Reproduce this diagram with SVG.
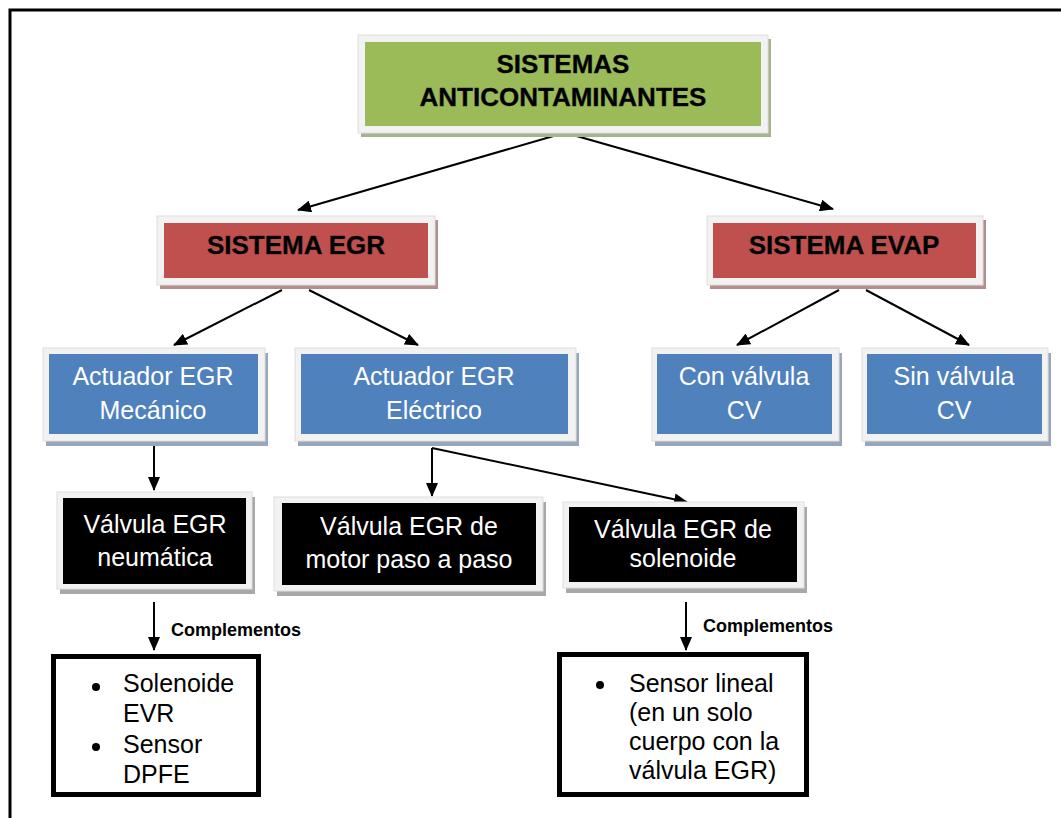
<svg xmlns="http://www.w3.org/2000/svg" width="1061" height="818" viewBox="0 0 1061 818">
  <defs>
    <marker id="arrow" viewBox="0 0 14 12" refX="13" refY="6" markerWidth="14" markerHeight="12" markerUnits="userSpaceOnUse" orient="auto">
      <path d="M0,0 L14,6 L0,12 Z" fill="#000"/>
    </marker>
    <style>
      .frame { fill: #f2f2f2; stroke: #dedede; stroke-width: 1; }
      .green { fill: #9bbb59; }
      .red { fill: #c0504d; }
      .blue { fill: #4f81bd; }
      .black { fill: #000; }
      .sh-green { fill: #a7b38f; }
      .sh-red { fill: #b48e8d; }
      .sh-blue { fill: #98a6ba; }
      .sh-black { fill: #a8a8a8; }
      .title { font-family: "Liberation Sans", Arial, sans-serif; font-weight: bold; font-size: 26px; fill: #000; stroke: #1a1a1a; stroke-width: 0.4; text-anchor: middle; }
      .label { font-family: "Liberation Sans", Arial, sans-serif; font-size: 25px; fill: #fff; text-anchor: middle; }
      .list { font-family: "Liberation Sans", Arial, sans-serif; font-size: 25px; fill: #000; }
      .note { font-family: "Liberation Sans", Arial, sans-serif; font-weight: bold; font-size: 18px; fill: #000; }
      .link { stroke: #000; stroke-width: 2; fill: none; marker-end: url(#arrow); }
      .box { fill: #fff; stroke: #000; stroke-width: 5; }
    </style>
  </defs>

  <rect width="1061" height="818" fill="#fff"/>
  <!-- page border (top and left edges) -->
  <path d="M10,818 V10 H1061" fill="none" stroke="#000" stroke-width="3"/>

  <g id="connectors">
    <line class="link" x1="557" y1="135" x2="298" y2="210"/>
    <line class="link" x1="573" y1="135" x2="833" y2="209"/>
    <line class="link" x1="282" y1="290" x2="174" y2="345"/>
    <line class="link" x1="309" y1="290" x2="418" y2="345"/>
    <line class="link" x1="839" y1="290" x2="737" y2="345"/>
    <line class="link" x1="866" y1="290" x2="969" y2="345"/>
    <line class="link" x1="154" y1="446" x2="154" y2="490"/>
    <line class="link" x1="432" y1="448" x2="432" y2="496"/>
    <line class="link" x1="432" y1="448" x2="687" y2="502"/>
    <line class="link" x1="154" y1="602" x2="154" y2="650"/>
    <line class="link" x1="686" y1="602" x2="686" y2="650"/>
    <text class="note" x="171" y="636">Complementos</text>
    <text class="note" x="703" y="632">Complementos</text>
  </g>

  <g id="sistemas-anticontaminantes">
    <rect class="sh-green" x="361" y="39" width="410" height="98"/>
    <rect class="frame" x="358" y="35" width="410" height="98"/>
    <rect class="green" x="365" y="42" width="396" height="84"/>
    <text class="title" x="563" y="73">SISTEMAS</text>
    <text class="title" x="563" y="106">ANTICONTAMINANTES</text>
  </g>

  <g id="sistema-egr">
    <rect class="sh-red" x="160" y="220" width="278" height="69"/>
    <rect class="frame" x="157" y="216" width="278" height="69"/>
    <rect class="red" x="164" y="223" width="264" height="55"/>
    <text class="title" x="296" y="254">SISTEMA EGR</text>
  </g>

  <g id="sistema-evap">
    <rect class="sh-red" x="710" y="220" width="276" height="69"/>
    <rect class="frame" x="707" y="216" width="276" height="69"/>
    <rect class="red" x="713" y="223" width="263" height="55"/>
    <text class="title" x="844" y="254">SISTEMA EVAP</text>
  </g>

  <g id="actuador-mecanico">
    <rect class="sh-blue" x="46" y="353" width="222" height="93"/>
    <rect class="frame" x="43" y="348" width="222" height="93"/>
    <rect class="blue" x="49" y="354" width="209" height="80"/>
    <text class="label" x="153" y="385">Actuador EGR</text>
    <text class="label" x="153" y="419">Mecánico</text>
  </g>

  <g id="actuador-electrico">
    <rect class="sh-blue" x="298" y="353" width="281" height="93"/>
    <rect class="frame" x="295" y="348" width="281" height="93"/>
    <rect class="blue" x="301" y="354" width="267" height="80"/>
    <text class="label" x="434" y="385">Actuador EGR</text>
    <text class="label" x="434" y="419">Eléctrico</text>
  </g>

  <g id="con-valvula-cv">
    <rect class="sh-blue" x="655" y="353" width="187" height="93"/>
    <rect class="frame" x="652" y="348" width="187" height="93"/>
    <rect class="blue" x="657" y="354" width="175" height="80"/>
    <text class="label" x="744" y="385">Con válvula</text>
    <text class="label" x="744" y="419">CV</text>
  </g>

  <g id="sin-valvula-cv">
    <rect class="sh-blue" x="865" y="353" width="186" height="93"/>
    <rect class="frame" x="862" y="348" width="186" height="93"/>
    <rect class="blue" x="867" y="354" width="175" height="80"/>
    <text class="label" x="954" y="385">Sin válvula</text>
    <text class="label" x="954" y="419">CV</text>
  </g>

  <g id="valvula-neumatica">
    <rect class="sh-black" x="60" y="497" width="195" height="97"/>
    <rect class="frame" x="57" y="492" width="195" height="97"/>
    <rect class="black" x="63" y="498" width="183" height="86"/>
    <text class="label" x="155" y="533">Válvula EGR</text>
    <text class="label" x="155" y="566">neumática</text>
  </g>

  <g id="valvula-paso-a-paso">
    <rect class="sh-black" x="277" y="502" width="269" height="94"/>
    <rect class="frame" x="274" y="497" width="269" height="94"/>
    <rect class="black" x="282" y="503" width="254" height="82"/>
    <text class="label" x="409" y="535">Válvula EGR de</text>
    <text class="label" x="409" y="568">motor paso a paso</text>
  </g>

  <g id="valvula-solenoide">
    <rect class="sh-black" x="566" y="507" width="241" height="86"/>
    <rect class="frame" x="563" y="502" width="241" height="86"/>
    <rect class="black" x="569" y="507" width="228" height="75"/>
    <text class="label" x="683" y="538">Válvula EGR de</text>
    <text class="label" x="683" y="567">solenoide</text>
  </g>

  <g id="complementos-neumatica">
    <rect class="box" x="53.5" y="656.5" width="205" height="138"/>
    <circle cx="96" cy="687" r="4"/>
    <circle cx="96" cy="747" r="4"/>
    <text class="list" x="123" y="692">Solenoide</text>
    <text class="list" x="123" y="722">EVR</text>
    <text class="list" x="123" y="753">Sensor</text>
    <text class="list" x="123" y="783">DPFE</text>
  </g>

  <g id="complementos-solenoide">
    <rect class="box" x="559.5" y="654.5" width="247" height="140"/>
    <circle cx="600" cy="685" r="4"/>
    <text class="list" x="629" y="692">Sensor lineal</text>
    <text class="list" x="629" y="721">(en un solo</text>
    <text class="list" x="629" y="750">cuerpo con la</text>
    <text class="list" x="629" y="779">válvula EGR)</text>
  </g>
</svg>
